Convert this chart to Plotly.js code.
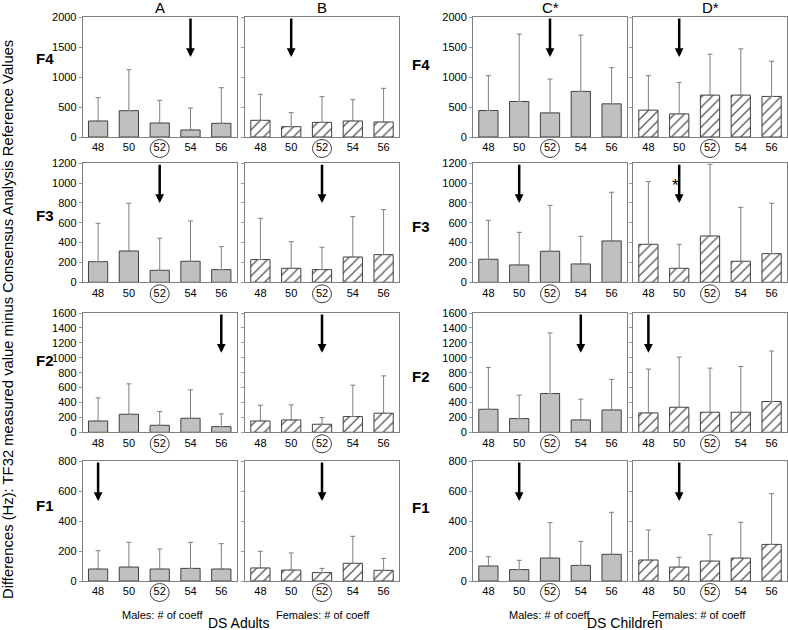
<!DOCTYPE html>
<html><head><meta charset="utf-8">
<script src="https://cdn.plot.ly/plotly-3.0.1.min.js"></script>
<style>html,body{margin:0;padding:0;background:#fff}#chart{width:788px;height:630px}</style>
</head><body><div id="chart"></div>
<script>
// ---- data ----
const coeffs = [48, 50, 52, 54, 56];
const coeffLabels = ['48', '50', '52', '54', '56'];
const groups = ['A', 'B', 'C*', 'D*'];
const formants = ['F4', 'F3', 'F2', 'F1'];
const yMax = [2000, 1200, 1600, 800];
const yStep = [500, 200, 200, 200];
const circledCoeff = 52;

// means (bar heights) and SD (upper error bar lengths), per formant and group
const meanF4A = [267, 439, 233, 117, 228];  const sdF4A = [389, 683, 378, 366, 594];
const meanF4B = [278, 172, 244, 267, 250];  const sdF4B = [433, 234, 428, 355, 561];
const meanF4C = [441, 592, 402, 760, 553];  const sdF4C = [581, 1123, 564, 938, 603];
const meanF4D = [447, 385, 698, 698, 676];  const sdF4D = [575, 525, 682, 771, 587];

const meanF3A = [208, 316, 121, 212, 128];  const sdF3A = [387, 481, 323, 406, 232];
const meanF3B = [229, 141, 128, 255, 279];  const sdF3B = [416, 269, 225, 407, 454];
const meanF3C = [232, 175, 313, 185, 417];  const sdF3C = [393, 329, 463, 279, 491];
const meanF3D = [383, 141, 467, 212, 289];  const sdF3D = [632, 242, 723, 544, 508];

const meanF2A = [152, 242, 94, 188, 76];    const sdF2A = [310, 408, 184, 381, 171];
const meanF2B = [152, 166, 108, 211, 256];  const sdF2B = [211, 202, 89, 421, 501];
const meanF2C = [309, 184, 520, 166, 300];  const sdF2C = [561, 314, 812, 278, 409];
const meanF2D = [260, 336, 269, 269, 413];  const sdF2D = [588, 673, 592, 614, 677];

const meanF1A = [80, 93, 80, 84, 80];       const sdF1A = [122, 165, 133, 174, 169];
const meanF1B = [87, 73, 56, 118, 71];      const sdF1B = [111, 114, 28, 180, 80];
const meanF1C = [100, 76, 153, 104, 178];   const sdF1C = [62, 62, 236, 160, 280];
const meanF1D = [140, 93, 133, 153, 244];   const sdF1D = [200, 65, 176, 238, 338];

// coefficient marked by an arrow in each panel (A, B, C*, D*)
const arrowF4 = [54, 50, 52, 50];
const arrowF3 = [52, 52, 50, 50];
const arrowF2 = [56, 52, 54, 48];
const arrowF1 = [48, 52, 50, 50];

// significance star (panel D*, F3)
const starCoeff = 49.73;
const starValue = 975;

// ---- assemble ----
const means = [[meanF4A, meanF4B, meanF4C, meanF4D], [meanF3A, meanF3B, meanF3C, meanF3D],
               [meanF2A, meanF2B, meanF2C, meanF2D], [meanF1A, meanF1B, meanF1C, meanF1D]];
const sds = [[sdF4A, sdF4B, sdF4C, sdF4D], [sdF3A, sdF3B, sdF3C, sdF3D],
             [sdF2A, sdF2B, sdF2C, sdF2D], [sdF1A, sdF1B, sdF1C, sdF1D]];
const arrows = [arrowF4, arrowF3, arrowF2, arrowF1];

const W = 788, H = 630;
const xPx = [[82.7, 236.7], [245, 399], [473, 627], [633, 787]];
const yPx = [[17, 137], [163.3, 282.3], [313, 432.3], [461, 581]];
const px = v => v / W, py = v => 1 - v / H;

const FONT = 'Liberation Sans, Arial, sans-serif';
const traces = [];
const layout = {
  width: W, height: H, margin: {l: 0, r: 0, t: 0, b: 0},
  paper_bgcolor: '#fff', plot_bgcolor: '#fff', showlegend: false,
  font: {family: FONT, color: '#000', size: 11},
  annotations: [], shapes: []
};

for (let r = 0; r < 4; r++) {
  for (let c = 0; c < 4; c++) {
    const k = r * 4 + c + 1;
    const sfx = k === 1 ? '' : String(k);
    const xa = 'x' + sfx, ya = 'y' + sfx;
    const hatched = (c === 1 || c === 3);
    traces.push({
      type: 'bar', x: coeffs, y: means[r][c], xaxis: xa, yaxis: ya, width: 1.25,
      marker: hatched
        ? {color: '#ffffff', line: {color: '#404040', width: 1},
           pattern: {shape: '/', fgcolor: '#555555', bgcolor: '#ffffff', size: 7, solidity: 0.18}}
        : {color: '#c0c0c0', line: {color: '#404040', width: 1}},
      error_y: {type: 'data', symmetric: false, array: sds[r][c], color: '#7f7f7f', thickness: 1, width: 2.5},
      hoverinfo: 'skip'
    });
    layout['xaxis' + sfx] = {
      domain: [px(xPx[c][0]), px(xPx[c][1])], anchor: ya, range: [47, 57],
      tickmode: 'array', tickvals: coeffs, ticktext: coeffLabels, ticks: '',
      showline: true, mirror: true, linecolor: '#7f7f7f', linewidth: 1,
      showgrid: false, zeroline: false, fixedrange: true,
      tickfont: {family: FONT, size: 11, color: '#000'}
    };
    layout['yaxis' + sfx] = {
      domain: [py(yPx[r][1]), py(yPx[r][0])], anchor: xa, range: [0, yMax[r]],
      tick0: 0, dtick: yStep[r], ticks: 'outside', ticklen: 3, tickcolor: '#9a9a9a',
      showticklabels: (c === 0 || c === 2),
      showline: true, mirror: true, linecolor: '#7f7f7f', linewidth: 1,
      showgrid: false, zeroline: false, fixedrange: true,
      tickfont: {family: FONT, size: 11, color: '#000'}
    };
    // circle around the 52 tick label
    const cx = (circledCoeff - 47) / 10;
    const hh = yPx[r][1] - yPx[r][0];
    layout.shapes.push({
      type: 'circle', xref: xa + ' domain', yref: ya + ' domain',
      x0: cx - 9.5 / 154, x1: cx + 9.5 / 154,
      y0: -(11.5 + 9) / hh, y1: -(11.5 - 9) / hh,
      line: {color: '#404040', width: 1}
    });
    // arrow
    layout.annotations.push({
      xref: xa, yref: ya, axref: xa, ayref: ya,
      x: arrows[r][c], y: yMax[r] * 2 / 3, ax: arrows[r][c], ay: yMax[r],
      showarrow: true, arrowhead: 2, arrowsize: 0.7, arrowwidth: 2.5, arrowcolor: '#000',
      standoff: 0, startstandoff: 0, text: ''
    });
  }
}

// star (F3 row, D* column -> subplot 8)
layout.annotations.push({
  xref: 'x8', yref: 'y8', x: starCoeff, y: starValue, text: '*', showarrow: false,
  xanchor: 'center', yanchor: 'middle', font: {family: FONT, size: 17, color: '#000'}
});

// column titles
const colCenters = [159.7, 322, 550, 710];
groups.forEach((g, c) => layout.annotations.push({
  xref: 'paper', yref: 'paper', x: px(colCenters[c]), y: py(8), text: g, showarrow: false,
  xanchor: 'center', yanchor: 'middle', font: {family: FONT, size: 15, color: '#000'}
}));

// row labels (left and right blocks)
const rowLeftY = [58, 215, 360, 505];
const rowRightY = [65, 226, 376, 507];
formants.forEach((f, r) => {
  layout.annotations.push({xref: 'paper', yref: 'paper', x: px(45), y: py(rowLeftY[r]), text: '<b>' + f + '</b>',
    showarrow: false, xanchor: 'center', yanchor: 'middle', font: {family: FONT, size: 15, color: '#000'}});
  layout.annotations.push({xref: 'paper', yref: 'paper', x: px(421), y: py(rowRightY[r]), text: '<b>' + f + '</b>',
    showarrow: false, xanchor: 'center', yanchor: 'middle', font: {family: FONT, size: 15, color: '#000'}});
});

// bottom labels
const bottom = [
  ['Males: # of coeff', 162, 615, 11], ['Females: # of coeff', 323, 615, 11], ['DS Adults', 238, 623, 14],
  ['Males: # of coeff', 549, 615, 11], ['Females: # of coeff', 699, 615, 11], ['DS Children', 624, 623, 14]
];
bottom.forEach(b => layout.annotations.push({
  xref: 'paper', yref: 'paper', x: px(b[1]), y: py(b[2]), text: b[0], showarrow: false,
  xanchor: 'center', yanchor: 'middle', font: {family: FONT, size: b[3], color: '#000'}
}));

// y title
layout.annotations.push({
  xref: 'paper', yref: 'paper', x: px(8), y: py(320), textangle: -90,
  text: 'Differences (Hz): TF32 measured value minus Consensus Analysis Reference Values',
  showarrow: false, xanchor: 'center', yanchor: 'middle', font: {family: FONT, size: 14.8, color: '#000'}
});

Plotly.newPlot('chart', traces, layout, {staticPlot: true, displayModeBar: false});
</script></body></html>
